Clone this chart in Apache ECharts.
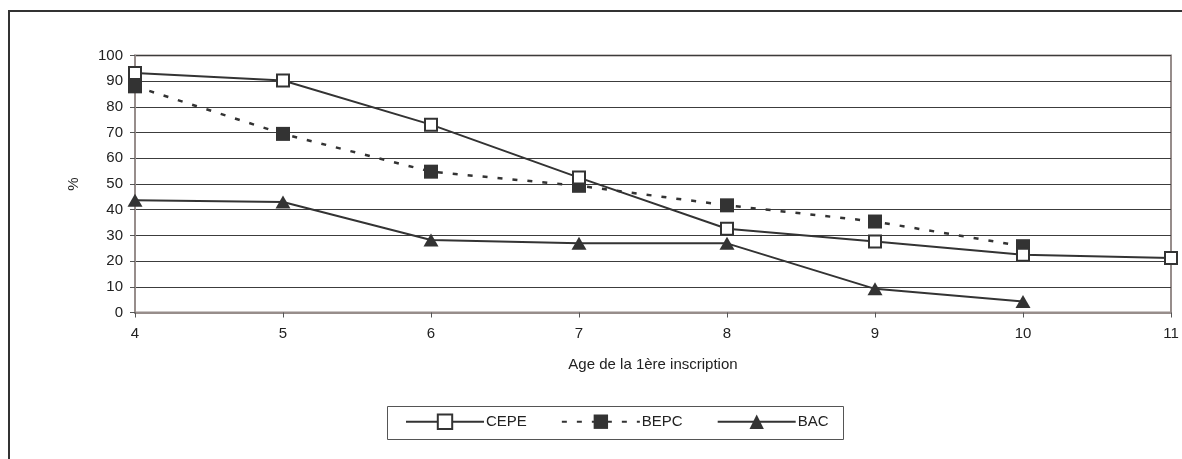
<!DOCTYPE html>
<html>
<head>
<meta charset="utf-8">
<script src="https://cdn.jsdelivr.net/npm/echarts@6/dist/echarts.min.js"></script>
<style>
  html, body { margin: 0; padding: 0; background: #fff; }
  #chart { width: 1182px; height: 459px; }
</style>
</head>
<body>
<div id="chart"></div>
<script>
// Age at first enrolment and share (%) of pupils obtaining each diploma
const ages = [4, 5, 6, 7, 8, 9, 10, 11];
const cepe = [93.2, 90.3, 73.1, 52.5, 32.6, 27.6, 22.5, 21.2];
const bepc = [88.0, 69.5, 54.8, 49.3, 41.7, 35.4, 25.8, null];
const bac  = [43.7, 43.0, 28.2, 26.9, 26.9, 9.2, 4.3, null];
const yTicks = [0, 10, 20, 30, 40, 50, 60, 70, 80, 90, 100];

const pairs = arr => ages.map((a, i) => [a, arr[i]]).filter(p => p[1] !== null);

const ink = '#333333';
const frameGrey = '#978d8b';
const font = 'Liberation Sans, Arial, sans-serif';
const fs = 15;

const chart = echarts.init(document.getElementById('chart'), null, { renderer: 'canvas' });
chart.setOption({
  animation: false,
  backgroundColor: '#ffffff',
  textStyle: { fontFamily: font },
  grid: {
    left: 135, right: 11, top: 55.5, bottom: 146.5,
    show: true, borderColor: frameGrey, borderWidth: 2, backgroundColor: 'transparent'
  },
  graphic: [
    {
      type: 'rect', silent: true, z: 0,
      shape: { x: 9, y: 11, width: 1200, height: 500 },
      style: { fill: 'none', stroke: ink, lineWidth: 2 }
    },
    {
      type: 'rect', silent: true, z: 0,
      shape: { x: 387.5, y: 406.5, width: 456, height: 33 },
      style: { fill: '#fff', stroke: '#555', lineWidth: 1 }
    }
  ],
  legend: {
    data: ['CEPE', 'BEPC', 'BAC'],
    left: 405, top: 413.5, padding: 0,
    itemWidth: 78, itemHeight: 18, itemGap: 34,
    textStyle: { fontFamily: font, fontSize: fs, color: '#222', padding: [0, 0, 0, -3] }
  },
  xAxis: {
    type: 'value', min: 4, max: 11, interval: 1,
    name: 'Age de la 1ère inscription', nameLocation: 'middle', nameGap: 45,
    nameTextStyle: { fontFamily: font, fontSize: fs, color: '#222' },
    axisLine: { show: true, onZero: false, lineStyle: { color: frameGrey, width: 2 } },
    axisTick: { show: true, length: 5, lineStyle: { color: '#555', width: 1 } },
    axisLabel: { fontFamily: font, fontSize: fs, color: '#222', margin: 14 },
    splitLine: { show: false }
  },
  yAxis: {
    type: 'value', min: yTicks[0], max: yTicks[yTicks.length - 1], interval: 10,
    name: '%', nameLocation: 'middle', nameGap: 54, nameRotate: 90,
    nameTextStyle: { fontFamily: font, fontSize: fs, color: '#222' },
    axisLine: { show: true, lineStyle: { color: frameGrey, width: 2 } },
    axisTick: { show: true, length: 5, lineStyle: { color: '#555', width: 1 } },
    axisLabel: { fontFamily: font, fontSize: fs, color: '#222', margin: 12 },
    splitLine: { show: true, lineStyle: { color: '#3c3c3c', width: 1 } }
  },
  series: [
    {
      name: 'BAC', type: 'line', z: 3,
      data: pairs(bac),
      symbol: 'triangle', symbolSize: [15, 13],
      lineStyle: { color: ink, width: 2 },
      itemStyle: { color: ink, borderColor: ink, borderWidth: 0 }
    },
    {
      name: 'BEPC', type: 'line', z: 4,
      data: pairs(bepc),
      symbol: 'rect', symbolSize: 14,
      lineStyle: { color: ink, width: 2.5, type: [5, 10] },
      itemStyle: { color: ink, borderColor: ink, borderWidth: 0 }
    },
    {
      name: 'CEPE', type: 'line', z: 5,
      data: pairs(cepe),
      symbol: 'rect', symbolSize: 12,
      lineStyle: { color: ink, width: 2 },
      itemStyle: { color: '#ffffff', borderColor: ink, borderWidth: 2 }
    }
  ]
});
</script>
</body>
</html>
